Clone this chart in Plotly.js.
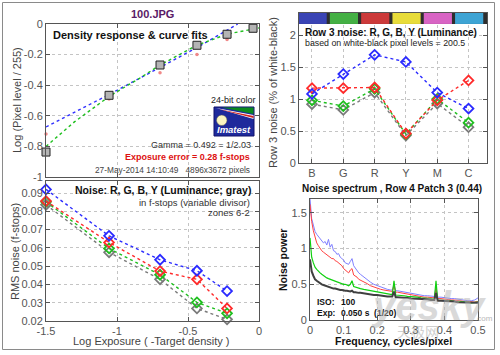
<!DOCTYPE html>
<html><head><meta charset="utf-8">
<script src="https://cdn.plot.ly/plotly-3.0.1.min.js"></script>
<style>html,body{margin:0;padding:0;background:#e9eef7;}#plot{width:500px;height:355px;}</style>
</head><body><div id="plot"></div>
<script>
// ---------- Data ----------
// Density response (top-left)
const logExposure = [-1.5, -1.056, -0.697, -0.437, -0.225, -0.042];
const densityMeasured = [-0.837, -0.466, -0.268, -0.139, -0.067, -0.028];
const densityRed = [-0.719, -0.49, -0.318, -0.20, -0.102, -0.04];
const fitLinX = [-1.5, -1.05, -0.7, -0.44, -0.15];
const fitLinY = [-0.673, -0.458, -0.285, -0.155, 0.0];
const fitCurveX = [-1.5, -1.3, -1.05, -0.85, -0.7, -0.44, -0.22, 0];
const fitCurveY = [-0.80, -0.64, -0.47, -0.36, -0.27, -0.14, -0.065, -0.026];
const tlTickVals = [0, -0.2, -0.4, -0.6, -0.8, -1];
const tlTickText = ['0', '-0.2', '-0.4', '-0.6', '-0.8', '-1'];

// Row 3 noise (top-right)
const patchCats = ['B', 'G', 'R', 'Y', 'M', 'C'];
const patchColors = ['#3a44b4', '#44b044', '#cc3a3a', '#e8dc3a', '#d864c4', '#3ea4d4'];
const row3Blue = [1.08, 1.39, 1.69, 1.58, 1.10, 0.85];
const row3Red = [1.17, 1.17, 1.18, 0.46, 0.98, 1.29];
const row3Green = [0.98, 0.89, 1.16, 0.45, 1.00, 0.63];
const row3Gray = [0.92, 0.83, 1.10, 0.43, 0.93, 0.56];

// Noise in f-stops (bottom-left)
const noiseX = [-1.5, -1.056, -0.697, -0.437, -0.225];
const noiseBlue = [0.0920, 0.0666, 0.0535, 0.0475, 0.0364];
const noiseRed = [0.0856, 0.0630, 0.0473, 0.0428, 0.0269];
const noiseGreen = [0.0852, 0.0597, 0.0453, 0.0302, 0.0242];
const noiseGray = [0.0836, 0.0576, 0.0428, 0.0269, 0.0209];
const blTickVals = [-1.5, -1, -0.5, 0];
const blTickText = ['-1.5', '-1', '-0.5', '0'];
const blYTickVals = [0.02, 0.03, 0.04, 0.05, 0.06, 0.07, 0.08, 0.09];
const blYTickText = ['0.02', '0.03', '0.04', '0.05', '0.06', '0.07', '0.08', '0.09'];

// Noise spectrum (bottom-right)
const freq = [0,0.005,0.01,0.015,0.02,0.025,0.03,0.035,0.04,0.045,0.05,0.055,0.06,0.065,0.07,0.075,0.08,0.085,0.09,0.095,
  0.1,0.105,0.11,0.115,0.12,0.125,0.13,0.135,0.14,0.145,0.15,0.16,0.17,0.18,0.19,0.2,0.21,0.22,0.23,0.24,
  0.245,0.25,0.255,0.26,0.27,0.28,0.29,0.3,0.31,0.32,0.33,0.34,0.35,0.36,0.37,0.375,0.38,0.39,0.4,0.41,
  0.42,0.43,0.44,0.45,0.46,0.47,0.48,0.49,0.5];
const specBlue = [1.70,1.42,1.33,1.24,1.20,1.17,1.15,1.12,1.08,1.10,1.05,1.13,1.02,1.06,0.97,0.96,0.92,0.93,0.88,0.86,
  0.84,0.80,0.79,0.78,0.82,0.86,0.76,0.72,0.70,0.66,0.64,0.60,0.56,0.53,0.50,0.48,0.46,0.45,0.43,0.42,
  0.42,0.50,0.41,0.41,0.40,0.39,0.38,0.37,0.36,0.36,0.35,0.34,0.34,0.33,0.33,0.46,0.32,0.32,0.31,0.31,
  0.30,0.30,0.29,0.28,0.28,0.27,0.27,0.28,0.31];
const specRed = [1.62,1.38,1.25,1.15,1.08,1.04,1.00,0.97,0.95,0.93,0.92,0.90,0.88,0.86,0.86,0.83,0.82,0.80,0.77,0.76,
  0.72,0.70,0.68,0.66,0.70,0.72,0.63,0.62,0.60,0.57,0.56,0.53,0.51,0.48,0.46,0.44,0.43,0.42,0.41,0.40,
  0.40,0.48,0.39,0.39,0.38,0.37,0.36,0.35,0.34,0.34,0.33,0.32,0.32,0.31,0.31,0.44,0.30,0.30,0.29,0.29,
  0.28,0.28,0.27,0.27,0.26,0.26,0.25,0.25,0.26];
const specGreen = [1.15,0.88,0.80,0.74,0.71,0.68,0.66,0.64,0.62,0.61,0.59,0.58,0.57,0.56,0.55,0.54,0.53,0.53,0.52,0.51,
  0.50,0.50,0.49,0.48,0.50,0.55,0.47,0.46,0.46,0.45,0.44,0.43,0.42,0.41,0.40,0.39,0.38,0.38,0.37,0.36,
  0.36,0.55,0.35,0.35,0.34,0.34,0.33,0.33,0.32,0.32,0.31,0.31,0.30,0.30,0.29,0.55,0.28,0.28,0.27,0.27,
  0.27,0.26,0.26,0.25,0.25,0.25,0.24,0.24,0.25];
const specGray = [0.85,0.68,0.62,0.57,0.55,0.53,0.51,0.50,0.49,0.48,0.47,0.46,0.45,0.45,0.44,0.44,0.43,0.43,0.42,0.42,
  0.41,0.41,0.41,0.40,0.40,0.41,0.39,0.39,0.38,0.38,0.38,0.37,0.36,0.36,0.35,0.35,0.34,0.34,0.33,0.33,
  0.33,0.40,0.32,0.32,0.32,0.31,0.31,0.30,0.30,0.30,0.29,0.29,0.29,0.28,0.28,0.38,0.27,0.27,0.27,0.26,
  0.26,0.26,0.25,0.25,0.25,0.24,0.24,0.24,0.24];

// ---------- Helpers ----------
const W = 500, H = 355;
const px = v => v / W;
const py = v => 1 - v / H;
const FONT = 'Liberation Sans, Arial, sans-serif';
const C = {blue: '#2a2aff', red: '#ff2a2a', green: '#1fbf1f', gray: '#7a7a7a'};

function dotLine(x, y, color, xa, ya, marker) {
  const t = {x: x, y: y, xaxis: xa, yaxis: ya, type: 'scatter', cliponaxis: false,
    mode: marker ? 'lines+markers' : 'lines', line: {color: color, width: 1.4, dash: 'dot'}, showlegend: false, hoverinfo: 'skip'};
  if (marker) t.marker = marker;
  return t;
}
function diam(color) { return {symbol: 'diamond-open', size: 7.5, color: color, line: {color: color, width: 1.8}}; }

const traces = [
  // top-left
  dotLine(fitLinX, fitLinY, '#3030ff', 'x', 'y'),
  dotLine(fitCurveX, fitCurveY, '#20c020', 'x', 'y'),
  {x: logExposure, y: densityRed, xaxis: 'x', yaxis: 'y', type: 'scatter', mode: 'markers', cliponaxis: false,
    marker: {color: '#f08888', size: 3.5}, showlegend: false},
  {x: logExposure, y: densityMeasured, xaxis: 'x', yaxis: 'y', type: 'scatter', mode: 'markers', cliponaxis: false,
    marker: {symbol: 'square', color: '#b4b4b4', size: 8, line: {color: '#222', width: 1}}, showlegend: false},
  // top-right
  dotLine(patchCats, row3Gray, C.gray, 'x2', 'y2', diam(C.gray)),
  dotLine(patchCats, row3Green, C.green, 'x2', 'y2', diam(C.green)),
  dotLine(patchCats, row3Red, C.red, 'x2', 'y2', diam(C.red)),
  dotLine(patchCats, row3Blue, C.blue, 'x2', 'y2', diam(C.blue)),
  // bottom-left
  dotLine(noiseX, noiseGray, C.gray, 'x3', 'y3', diam(C.gray)),
  dotLine(noiseX, noiseGreen, C.green, 'x3', 'y3', diam(C.green)),
  dotLine(noiseX, noiseRed, C.red, 'x3', 'y3', diam(C.red)),
  dotLine(noiseX, noiseBlue, C.blue, 'x3', 'y3', diam(C.blue)),
  // bottom-right
  {x: freq, y: specBlue, xaxis: 'x4', yaxis: 'y4', type: 'scatter', mode: 'lines', line: {color: '#8080ff', width: 1}, showlegend: false},
  {x: freq, y: specRed, xaxis: 'x4', yaxis: 'y4', type: 'scatter', mode: 'lines', line: {color: '#ff4040', width: 1}, showlegend: false},
  {x: freq, y: specGreen, xaxis: 'x4', yaxis: 'y4', type: 'scatter', mode: 'lines', line: {color: '#10d010', width: 1.2}, showlegend: false},
  {x: freq, y: specGray, xaxis: 'x4', yaxis: 'y4', type: 'scatter', mode: 'lines', line: {color: '#404040', width: 2}, showlegend: false}
];

const axBase = {showline: true, linecolor: '#555', linewidth: 1, mirror: 'ticks', ticks: 'inside', ticklen: 4,
  tickcolor: '#555', showgrid: true, gridcolor: '#c4c4c4', griddash: 'dot', gridwidth: 1, zeroline: false,
  tickfont: {family: FONT, size: 11, color: '#555'}, fixedrange: true};
const ax = o => Object.assign({}, axBase, o);

const shapes = [
  // outer panel
  {type: 'rect', xref: 'paper', yref: 'paper', x0: px(2.5), x1: px(494.5), y0: py(349.5), y1: py(2.5),
    line: {color: '#8a8a8a', width: 1}, fillcolor: 'rgba(0,0,0,0)', layer: 'below'},
  // color bar background
  {type: 'rect', xref: 'x2', yref: 'y2 domain', x0: -0.415, x1: 5.59, y0: 0.927, y1: 1,
    line: {width: 0}, fillcolor: '#2e2e2e'}
];
patchCats.forEach((c, i) => {
  shapes.push({type: 'rect', xref: 'x2', yref: 'y2 domain', x0: Math.max(i - 0.43, -0.415), x1: Math.min(i + 0.47, 5.59),
    y0: 0.927, y1: 1, line: {width: 0}, fillcolor: patchColors[i]});
});
// Imatest logo
shapes.push(
  {type: 'rect', xref: 'paper', yref: 'paper', x0: px(214), x1: px(254), y0: py(136), y1: py(107), line: {color: '#10106a', width: 1}, fillcolor: '#1e2a9c'},
  {type: 'path', xref: 'paper', yref: 'paper', path: `M ${px(222)} ${py(107.5)} L ${px(253.5)} ${py(107.5)} L ${px(253.5)} ${py(114)} Z`, line: {width: 0}, fillcolor: '#0a8a1e'},
  {type: 'path', xref: 'paper', yref: 'paper', path: `M ${px(216)} ${py(108)} L ${px(253.5)} ${py(115)} L ${px(253.5)} ${py(119)} Z`, line: {width: 0}, fillcolor: '#ffffff'},
  {type: 'path', xref: 'paper', yref: 'paper', path: `M ${px(218)} ${py(109)} L ${px(253.5)} ${py(116)} L ${px(253.5)} ${py(118)} Z`, line: {width: 0}, fillcolor: '#d02020'},
  {type: 'circle', xref: 'paper', yref: 'paper', x0: px(216.5), x1: px(227), y0: py(125.5), y1: py(115), line: {color: '#555', width: 0.5}, fillcolor: '#fbf6c0'}
);

function ann(text, x, y, o) {
  return Object.assign({text: text, x: px(x), y: py(y), xref: 'paper', yref: 'paper', showarrow: false,
    xanchor: 'left', yanchor: 'middle', font: {family: FONT, size: 10, color: '#111'}}, o || {});
}
const annotations = [
  ann('<b>100.JPG</b>', 152, 14, {xanchor: 'center', font: {family: FONT, size: 11, color: '#5a1a66'}}),
  ann('<b>Density response &amp; curve fits</b>', 51, 35, {font: {family: FONT, size: 11, color: '#111'}}),
  ann('24-bit color', 233, 100, {xanchor: 'center', font: {family: FONT, size: 9, color: '#222'}}),
  ann('<i><b>Imatest</b></i>', 234, 130, {xanchor: 'center', font: {family: FONT, size: 9.5, color: '#ffffff'}}),
  ann('Gamma = 0.492 = 1/2.03', 253, 145, {xanchor: 'right', font: {family: FONT, size: 9, color: '#333'}}),
  ann('<b>Exposure error = 0.28 f-stops</b>', 252, 157, {xanchor: 'right', font: {family: FONT, size: 9, color: '#dd1111'}}),
  ann('27-May-2014 14:10:49&nbsp;&nbsp;&nbsp;4896x3672 pixels', 252, 170, {xanchor: 'right', font: {family: FONT, size: 8.3, color: '#444'}}),
  ann('Log (Pixel level / 255)', 17, 100, {xanchor: 'center', textangle: -90, font: {family: FONT, size: 11, color: '#444'}}),

  ann('<b>Row 3 noise: R, G, B, Y (Luminance)</b>', 303, 33, {font: {family: FONT, size: 10, color: '#111'}}),
  ann('based on white-black pixel levels = 200.5', 303, 43, {font: {family: FONT, size: 8.8, color: '#222'}}),
  ann('Row 3 noise (% of white-black)', 273, 93, {xanchor: 'center', textangle: -90, font: {family: FONT, size: 11, color: '#444'}}),

  ann('<b>Noise: R, G, B, Y (Luminance; gray)</b>', 253, 190, {xanchor: 'right', font: {family: FONT, size: 10.5, color: '#111'}}),
  ann('in f-stops (variable divisor)', 252, 202, {xanchor: 'right', font: {family: FONT, size: 9.5, color: '#333'}}),
  ann('zones 6-2', 252, 212, {xanchor: 'right', font: {family: FONT, size: 9.5, color: '#333'}}),
  ann('RMS noise (f-stops)', 15, 252, {xanchor: 'center', textangle: -90, font: {family: FONT, size: 11, color: '#444'}}),
  ann('Log Exposure ( -Target density )', 151, 341, {xanchor: 'center', font: {family: FONT, size: 11, color: '#444'}}),

  ann('<b>Noise spectrum , Row 4 Patch 3 (0.44)</b>', 392, 189, {xanchor: 'center', font: {family: FONT, size: 10, color: '#111'}}),
  ann('<b>Noise power</b>', 283, 260, {xanchor: 'center', textangle: -90, font: {family: FONT, size: 10.5, color: '#111'}}),
  ann('<b>Frequency, cycles/pixel</b>', 393, 341, {xanchor: 'center', font: {family: FONT, size: 10.5, color: '#111'}}),
  ann('<b>ISO:</b>', 315, 302, {font: {family: FONT, size: 8.5, color: '#111'}}),
  ann('<b>100</b>', 339, 302, {font: {family: FONT, size: 8.5, color: '#111'}}),
  ann('<b>Exp:</b>', 315, 313, {font: {family: FONT, size: 8.5, color: '#111'}}),
  ann('<b>0.050 s&nbsp;&nbsp;(1/20)</b>', 339, 313, {font: {family: FONT, size: 8.5, color: '#111'}}),
  // watermark
  ann('<i><b>yesky</b></i>', 428, 306, {xanchor: 'center', opacity: 0.5, font: {family: FONT, size: 40, color: '#b4b4b4'}}),
  ann('天极网', 418, 331, {xanchor: 'center', opacity: 0.5, font: {family: 'Noto Sans CJK SC', size: 14, color: '#a0a0a0'}}),
  ann('.com', 484, 318, {xanchor: 'center', opacity: 0.6, font: {family: FONT, size: 8, color: '#888'}})
];

const layout = {
  width: W, height: H, margin: {l: 0, r: 0, t: 0, b: 0},
  paper_bgcolor: '#ffffff', plot_bgcolor: '#ffffff', showlegend: false,
  font: {family: FONT},
  xaxis: ax({domain: [px(46), px(259)], range: [-1.5, 0], anchor: 'y', tickvals: blTickVals, showticklabels: false}),
  yaxis: ax({domain: [py(177), py(24)], range: [-1, 0], anchor: 'x', tickvals: tlTickVals, ticktext: tlTickText}),
  xaxis2: ax({domain: [px(299), px(487)], range: [-0.415, 5.59], anchor: 'y2', type: 'category'}),
  yaxis2: ax({domain: [py(163), py(13)], range: [0, 2.344], anchor: 'x2', tickvals: [0, 0.5, 1, 1.5, 2], ticktext: ['0', '0.5', '1', '1.5', '2']}),
  xaxis3: ax({domain: [px(46), px(259)], range: [-1.5, 0], anchor: 'y3', tickvals: blTickVals, ticktext: blTickText}),
  yaxis3: ax({domain: [py(321), py(181)], range: [0.02, 0.0966], anchor: 'x3', tickvals: blYTickVals, ticktext: blYTickText}),
  xaxis4: ax({domain: [px(310), px(478)], range: [0, 0.5], anchor: 'y4', tickvals: [0, 0.1, 0.2, 0.3, 0.4, 0.5], ticktext: ['0', '0.1', '0.2', '0.3', '0.4', '0.5']}),
  yaxis4: ax({domain: [py(320), py(199)], range: [0, 1.695], anchor: 'x4', tickvals: [0, 0.5, 1, 1.5], ticktext: ['0', '0.5', '1', '1.5']}),
  shapes: shapes,
  annotations: annotations
};

Plotly.newPlot('plot', traces, layout, {staticPlot: true, displayModeBar: false});
</script></body></html>
